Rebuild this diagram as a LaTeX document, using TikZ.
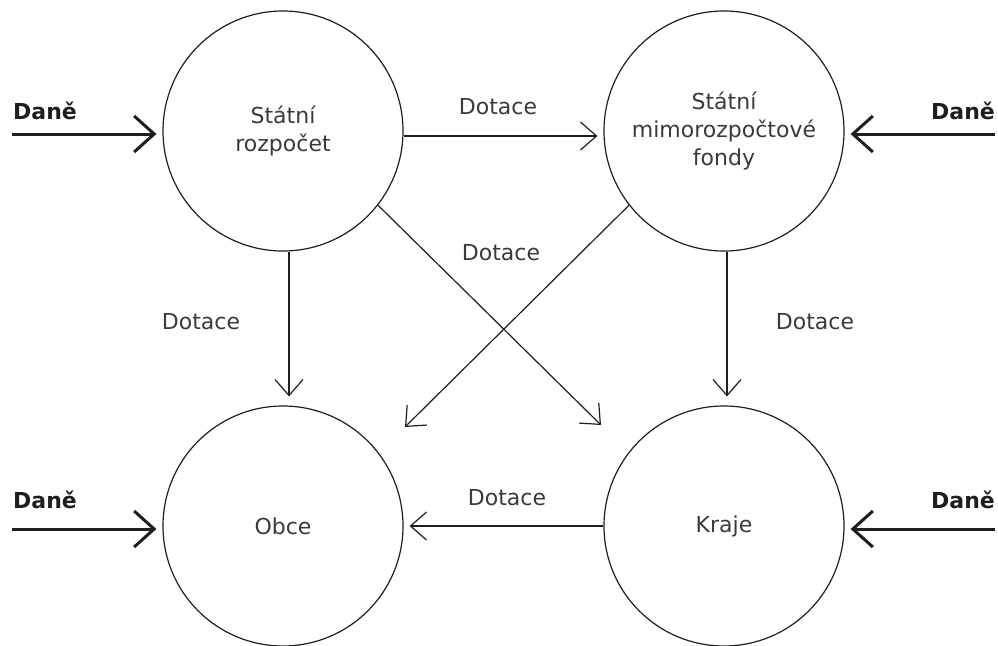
\documentclass[tikz,border=0pt]{standalone}
\usepackage{fontspec}
\setmainfont{DejaVu Sans}
\usepackage{tikz}
\usetikzlibrary{arrows.meta}
\definecolor{txt}{HTML}{3A3A3A}
\definecolor{ink}{HTML}{1E1E1E}

\begin{document}
\begin{tikzpicture}[x=0.5pt, y=0.5pt, node distance={220.5pt},
	main/.style={draw=ink, circle, line width=0.6pt, minimum size=120pt, inner sep=0pt, align=center, text=txt, font=\fontsize{11}{14}\selectfont},
	flow/.style={draw=ink, line width=0.6pt, -{Straight Barb[length=8pt,width=14pt]}},
	tax/.style={draw=ink, -{Straight Barb[length=10pt,width=18pt]}, shorten >=3pt},
	lbl/.style={text=txt, font=\fontsize{11}{14}\selectfont},
	taxlbl/.style={text=ink, font=\fontsize{11}{14}\selectfont\bfseries}]
		\useasboundingbox (0,0) rectangle (998,645);

		\node[main] (1) at (283,514) {Státní\\rozpočet};
		\node[main] (2) [right of=1] {Státní\\mimorozpočtové\\fondy};
		\node[main] (3) [below of=1, node distance=197.5pt] {Obce};
		\node[main] (4) [right of=3] {Kraje};

		% free ends
		\coordinate (d1) at (12,511);
		\coordinate (d2) at (995,511);
		\coordinate (d3) at (12,116);
		\coordinate (d4) at (995,116);
		\coordinate (e1) at (601,220);
		\coordinate (e2) at (405,218);

		% dane
		\draw[tax, line width=1.5pt] (d1) -- (d1 -| 1.west);
		\draw[tax, line width=1.5pt] (d2) -- (d2 -| 2.east);
		\draw[tax, line width=1.5pt] (d3) -- (d3 -| 3.west);
		\draw[tax, line width=1.5pt] (d4) -- (d4 -| 4.east);

		% dotace
		\draw[flow, shorten >=3pt] ([yshift=-2.5pt]1.east) -- ([yshift=-2.5pt]2.west);
		\draw[flow, shorten >=4.5pt] ([xshift=3pt]1.south) -- ([xshift=3pt]3.north);
		\draw[flow, shorten >=4.5pt] ([xshift=1.5pt]2.south) -- ([xshift=1.5pt]4.north);
		\draw[flow] (1.-38) -- (e1);
		\draw[flow] (2.-142) -- (e2);
		\draw[flow, shorten >=3pt] (4.west) -- (3.east);

		\node[taxlbl] (t1) at (45,534) {Daně};
		\node[taxlbl] (t2) at (963,534) {Daně};
		\node[taxlbl] (t3) at (45,145) {Daně};
		\node[taxlbl] (t4) at (963,145) {Daně};

		\node[lbl] (l1) at (498,538) {Dotace};
		\node[lbl] (l2) at (201,323) {Dotace};
		\node[lbl] (l3) at (815,323) {Dotace};
		\node[lbl] (l4) at (501,392) {Dotace};
		\node[lbl] (l5) at (507,147) {Dotace};
	\end{tikzpicture}
\end{document}
